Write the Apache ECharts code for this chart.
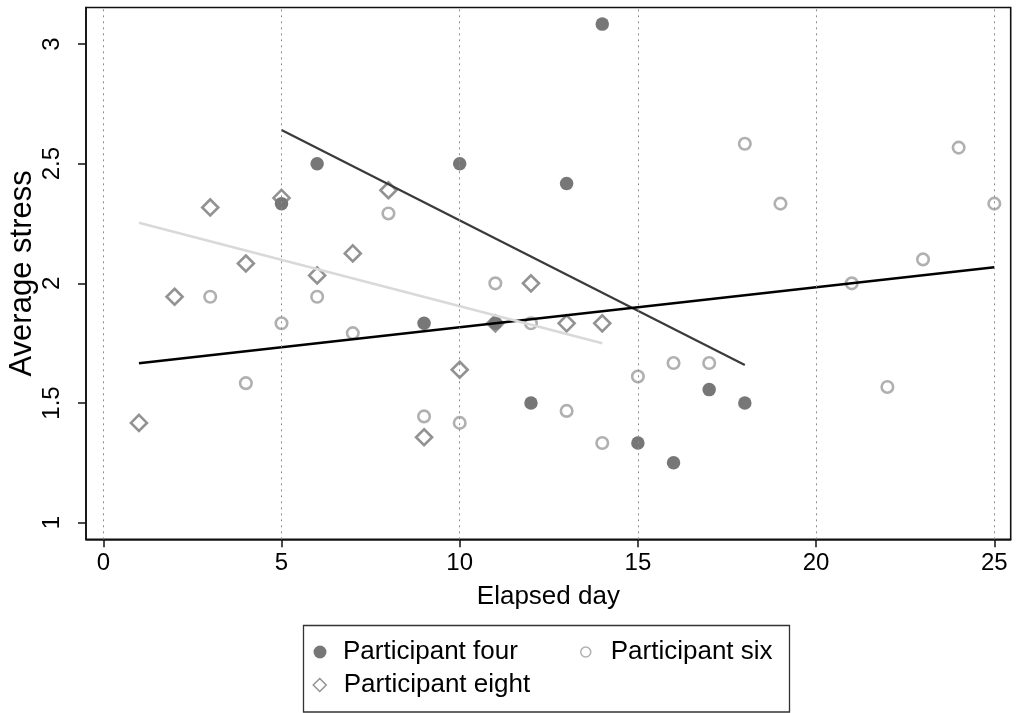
<!DOCTYPE html>
<html>
<head>
<meta charset="utf-8">
<script src="https://cdn.jsdelivr.net/npm/echarts@6/dist/echarts.min.js"></script>
<style>html,body{margin:0;padding:0;background:#fff}#c{width:1017px;height:713px}</style>
</head>
<body>
<div id="c"></div>
<script>
var xTicks = [0, 5, 10, 15, 20, 25];
var yTicks = [1, 1.5, 2, 2.5, 3];

var fourDays = [5, 6, 9, 10, 11, 12, 13, 14, 15, 16, 17, 18];
var fourStress = [2.333, 2.5, 1.833, 2.5, 1.833, 1.5, 2.417, 3.083, 1.333, 1.25, 1.556, 1.5];

var sixDays = [3, 4, 5, 6, 7, 8, 9, 10, 11, 12, 13, 14, 15, 16, 17, 18, 19, 21, 22, 23, 24, 25];
var sixStress = [1.944, 1.583, 1.833, 1.944, 1.792, 2.292, 1.444, 1.417, 2.0, 1.833, 1.467, 1.333, 1.611, 1.667, 1.667, 2.583, 2.333, 2.0, 1.567, 2.1, 2.567, 2.333];

var eightDays = [1, 2, 3, 4, 5, 6, 7, 8, 9, 10, 11, 12, 13, 14];
var eightStress = [1.417, 1.944, 2.317, 2.083, 2.357, 2.033, 2.125, 2.389, 1.357, 1.639, 1.833, 2.0, 1.833, 1.833];

var fitFourDays = [5, 18];
var fitFourStress = [2.641, 1.659];
var fitSixDays = [1, 25];
var fitSixStress = [1.666, 2.067];
var fitEightDays = [1, 14];
var fitEightStress = [2.253, 1.750];

function pairs(xs, ys) { return xs.map(function (x, i) { return [x, ys[i]]; }); }

var FONT = '"Liberation Sans", Arial, Helvetica, sans-serif';
var chart = echarts.init(document.getElementById('c'), null, {renderer: 'canvas'});

chart.setOption({
  animation: false,
  backgroundColor: '#fff',
  textStyle: {fontFamily: FONT},
  grid: {left: 86, right: 6.3, top: 7.5, bottom: 173.7, containLabel: false, outerBoundsMode: 'none',
         show: true, borderColor: '#111', borderWidth: 1.6, backgroundColor: 'transparent'},
  xAxis: {
    type: 'value', min: -0.4854, max: 25.46,
    name: 'Elapsed day', nameLocation: 'middle', nameGap: 45, nameMoveOverlap: false,
    nameTextStyle: {fontSize: 26, color: '#000', fontFamily: FONT},
    axisLine: {show: true, onZero: false, lineStyle: {color: '#111', width: 1.6}},
    axisTick: {show: true, length: 8, lineStyle: {color: '#111', width: 1.5}, customValues: xTicks},
    axisLabel: {fontSize: 24, color: '#000', margin: 12, fontFamily: FONT, customValues: xTicks},
    splitLine: {show: false}
  },
  yAxis: {
    type: 'value', min: 0.9306, max: 3.1524,
    name: 'Average stress', nameLocation: 'middle', nameGap: 48, nameRotate: 90, nameMoveOverlap: false,
    nameTextStyle: {fontSize: 31, color: '#000', fontFamily: FONT},
    axisLine: {show: true, onZero: false, lineStyle: {color: '#111', width: 1.6}},
    axisTick: {show: true, length: 8, lineStyle: {color: '#111', width: 1.5}, customValues: yTicks},
    axisLabel: {fontSize: 24, color: '#000', margin: 22, rotate: 90, fontFamily: FONT, customValues: yTicks},
    splitLine: {show: false}
  },
  legend: [
    {data: ['Participant four'], left: 313.5, top: 639, padding: 0, itemWidth: 13, itemHeight: 13,
     textStyle: {fontSize: 26, color: '#000', fontFamily: FONT, padding: [0, 0, 0, 11.5]}},
    {data: ['Participant six'], left: 580, top: 639, padding: 0, itemWidth: 10, itemHeight: 10,
     itemStyle: {borderWidth: 1.5},
     textStyle: {fontSize: 26, color: '#000', fontFamily: FONT, padding: [0, 0, 0, 15]}},
    {data: ['Participant eight'], left: 312.5, top: 672, padding: 0, itemWidth: 13, itemHeight: 13,
     itemStyle: {borderWidth: 1.5},
     textStyle: {fontSize: 26, color: '#000', fontFamily: FONT, padding: [0, 0, 0, 12.5]}}
  ],
  graphic: [{
    type: 'rect', shape: {x: 303.5, y: 625.5, width: 486, height: 86.5},
    style: {fill: 'none', stroke: '#333', lineWidth: 1.3}, z: 0
  }],
  series: [
    {
      name: 'Participant four', type: 'scatter', data: pairs(fourDays, fourStress),
      symbol: 'circle', symbolSize: 13.5, itemStyle: {color: '#555555'}, z: 3,
      markLine: {
        silent: true, symbol: 'none', label: {show: false}, animation: false,
        lineStyle: {type: [2, 4], color: '#8c8c8c', width: 1},
        emphasis: {disabled: true},
        data: xTicks.map(function (v) { return {xAxis: v}; })
      }
    },
    {
      name: 'Participant six', type: 'scatter', data: pairs(sixDays, sixStress),
      symbol: 'circle', symbolSize: 11.5,
      itemStyle: {color: 'rgba(255,255,255,0)', borderColor: '#9c9c9c', borderWidth: 2.6}, z: 3
    },
    {
      name: 'Participant eight', type: 'scatter', data: pairs(eightDays, eightStress),
      symbol: 'diamond', symbolSize: 16,
      itemStyle: {color: 'rgba(255,255,255,0)', borderColor: '#777777', borderWidth: 2.6}, z: 3
    },
    {
      name: 'fit four', type: 'line', data: pairs(fitFourDays, fitFourStress), showSymbol: false,
      lineStyle: {color: '#3a3a3a', width: 2.2}, z: 4, silent: true
    },
    {
      name: 'fit six', type: 'line', data: pairs(fitSixDays, fitSixStress), showSymbol: false,
      lineStyle: {color: '#000', width: 2.5}, z: 4, silent: true
    },
    {
      name: 'fit eight', type: 'line', data: pairs(fitEightDays, fitEightStress), showSymbol: false,
      lineStyle: {color: '#d9d9d9', width: 2.5}, z: 4, silent: true
    }
  ]
});
</script>
</body>
</html>
